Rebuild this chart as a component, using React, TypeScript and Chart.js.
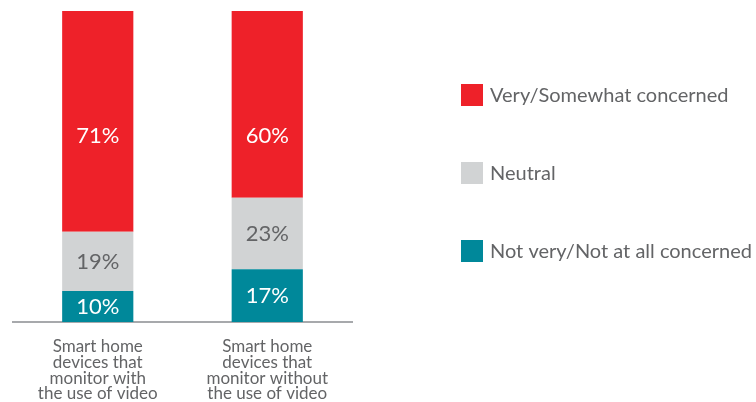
import React, { useEffect, useRef } from "react";
import { Chart, registerables } from "chart.js";

Chart.register(...registerables);

const categories: string[][] = [
  ["Smart home", "devices that", "monitor with", "the use of video"],
  ["Smart home", "devices that", "monitor without", "the use of video"],
];
const seriesNames = ["Not very/Not at all concerned", "Neutral", "Very/Somewhat concerned"];
const notConcerned = [10, 17];
const neutral = [19, 23];
const concerned = [71, 60];
const colors = ["#00889A", "#D1D3D4", "#EE2129"];
const labelColors = ["#FFFFFF", "#636466", "#FFFFFF"];
const TEXT = "#636466";
const FONT = "Lato";

const valueLabels = {
  id: "valueLabels",
  afterDatasetsDraw(chart: any) {
    const ctx = chart.ctx;
    ctx.save();
    ctx.font = `22px ${FONT}`;
    ctx.textAlign = "center";
    ctx.textBaseline = "middle";
    chart.data.datasets.forEach((ds: any, di: number) => {
      const meta = chart.getDatasetMeta(di);
      meta.data.forEach((el: any, i: number) => {
        const v = ds.data[i];
        const top = el.y;
        const bottom = el.base;
        const y = ds.labelTopOffset != null ? top + ds.labelTopOffset : (top + bottom) / 2;
        ctx.fillStyle = ds.labelColor;
        ctx.fillText(`${v}%`, el.x, y);
      });
    });
    ctx.restore();
  },
};

const sideLegend = {
  id: "sideLegend",
  afterDraw(chart: any, _args: any, opts: any) {
    const ctx = chart.ctx;
    ctx.save();
    ctx.font = `20px ${FONT}`;
    ctx.textAlign = "left";
    ctx.textBaseline = "middle";
    const order = [2, 1, 0];
    order.forEach((di, k) => {
      const ds = chart.data.datasets[di];
      const cy = opts.firstY + k * opts.spacing;
      ctx.fillStyle = ds.backgroundColor;
      ctx.fillRect(opts.x, cy - opts.box / 2, opts.box, opts.box);
      ctx.fillStyle = TEXT;
      ctx.fillText(ds.label, opts.x + opts.box + 7, cy + 1);
    });
    ctx.restore();
  },
};

export default function App() {
  const ref = useRef<HTMLCanvasElement>(null);
  useEffect(() => {
    if (!ref.current) return;
    const datasets = [notConcerned, neutral, concerned].map((d, i) => ({
      label: seriesNames[i],
      data: d,
      backgroundColor: colors[i],
      labelColor: labelColors[i],
      labelTopOffset: i === 2 ? 125 : null,
      barPercentage: 0.42,
      categoryPercentage: 1,
      borderWidth: 0,
    }));
    const chart = new Chart(ref.current, {
      type: "bar",
      data: { labels: categories, datasets: datasets as any },
      plugins: [valueLabels, sideLegend],
      options: {
        animation: false,
        responsive: true,
        maintainAspectRatio: false,
        layout: { padding: { left: 13, right: 404, top: 11, bottom: -16 } },
        plugins: {
          legend: { display: false },
          tooltip: { enabled: false },
          sideLegend: { x: 461, firstY: 95, spacing: 78, box: 22 },
        } as any,
        scales: {
          x: {
            stacked: true,
            grid: { display: false, drawTicks: false },
            border: { display: true, color: "#A7A9AC", width: 2 },
            ticks: {
              color: TEXT,
              font: { family: FONT, size: 17, lineHeight: 0.94 },
              padding: 16,
              maxRotation: 0,
              autoSkip: false,
            },
          },
          y: {
            stacked: true,
            display: false,
            min: 0,
            max: 100,
          },
        },
      },
    });
    return () => chart.destroy();
  }, []);
  return (
    <div style={{ position: "fixed", left: 0, top: 0, width: 756, height: 402, background: "#fff" }}>
      <canvas ref={ref} />
    </div>
  );
}
